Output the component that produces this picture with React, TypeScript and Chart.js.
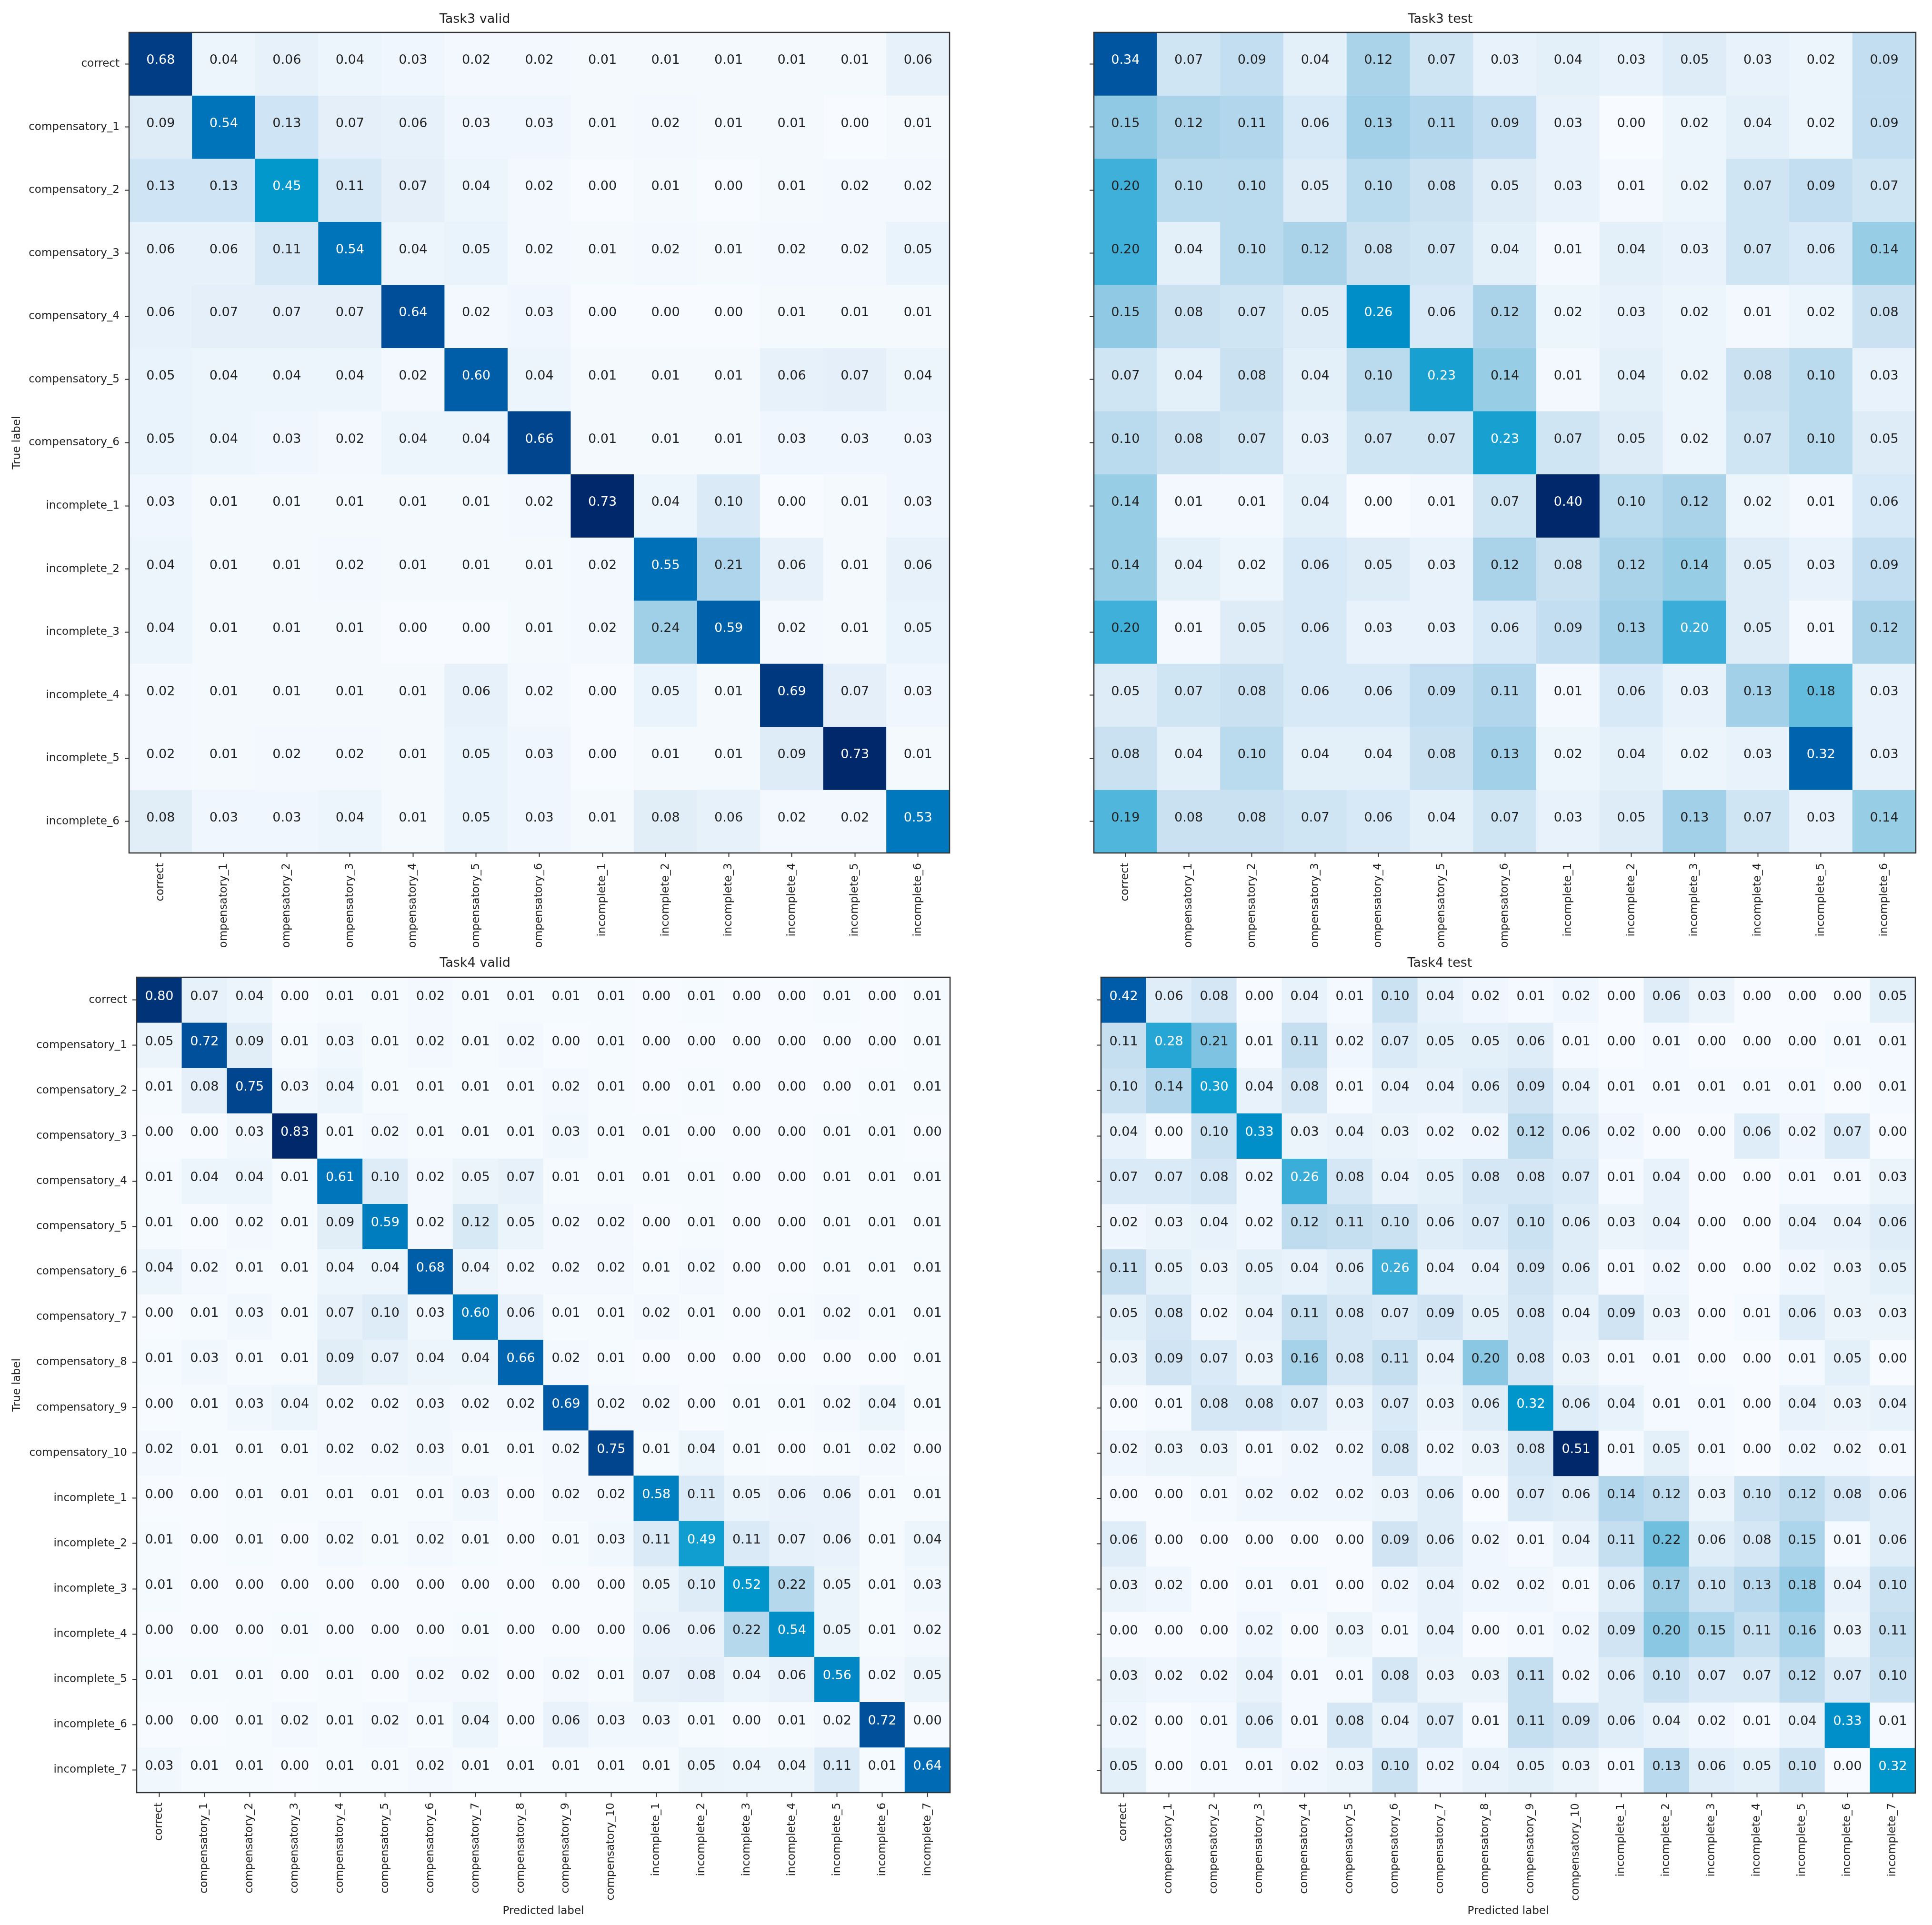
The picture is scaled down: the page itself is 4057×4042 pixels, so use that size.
import React, { useEffect, useRef } from 'react';
import { Chart, registerables } from 'chart.js';

Chart.register(...registerables);

const FONT = '"DejaVu Sans", "Liberation Sans", sans-serif';
Chart.defaults.font.family = FONT;

// ---------------- DATA ----------------
const task3Labels = [
  'correct', 'compensatory_1', 'compensatory_2', 'compensatory_3', 'compensatory_4',
  'compensatory_5', 'compensatory_6', 'incomplete_1', 'incomplete_2', 'incomplete_3',
  'incomplete_4', 'incomplete_5', 'incomplete_6',
];

const task4Labels = [
  'correct', 'compensatory_1', 'compensatory_2', 'compensatory_3', 'compensatory_4',
  'compensatory_5', 'compensatory_6', 'compensatory_7', 'compensatory_8', 'compensatory_9',
  'compensatory_10', 'incomplete_1', 'incomplete_2', 'incomplete_3', 'incomplete_4',
  'incomplete_5', 'incomplete_6', 'incomplete_7',
];

const task3Valid: number[][] = [
  [0.68, 0.04, 0.06, 0.04, 0.03, 0.02, 0.02, 0.01, 0.01, 0.01, 0.01, 0.01, 0.06],
  [0.09, 0.54, 0.13, 0.07, 0.06, 0.03, 0.03, 0.01, 0.02, 0.01, 0.01, 0.00, 0.01],
  [0.13, 0.13, 0.45, 0.11, 0.07, 0.04, 0.02, 0.00, 0.01, 0.00, 0.01, 0.02, 0.02],
  [0.06, 0.06, 0.11, 0.54, 0.04, 0.05, 0.02, 0.01, 0.02, 0.01, 0.02, 0.02, 0.05],
  [0.06, 0.07, 0.07, 0.07, 0.64, 0.02, 0.03, 0.00, 0.00, 0.00, 0.01, 0.01, 0.01],
  [0.05, 0.04, 0.04, 0.04, 0.02, 0.60, 0.04, 0.01, 0.01, 0.01, 0.06, 0.07, 0.04],
  [0.05, 0.04, 0.03, 0.02, 0.04, 0.04, 0.66, 0.01, 0.01, 0.01, 0.03, 0.03, 0.03],
  [0.03, 0.01, 0.01, 0.01, 0.01, 0.01, 0.02, 0.73, 0.04, 0.10, 0.00, 0.01, 0.03],
  [0.04, 0.01, 0.01, 0.02, 0.01, 0.01, 0.01, 0.02, 0.55, 0.21, 0.06, 0.01, 0.06],
  [0.04, 0.01, 0.01, 0.01, 0.00, 0.00, 0.01, 0.02, 0.24, 0.59, 0.02, 0.01, 0.05],
  [0.02, 0.01, 0.01, 0.01, 0.01, 0.06, 0.02, 0.00, 0.05, 0.01, 0.69, 0.07, 0.03],
  [0.02, 0.01, 0.02, 0.02, 0.01, 0.05, 0.03, 0.00, 0.01, 0.01, 0.09, 0.73, 0.01],
  [0.08, 0.03, 0.03, 0.04, 0.01, 0.05, 0.03, 0.01, 0.08, 0.06, 0.02, 0.02, 0.53],
];

const task3Test: number[][] = [
  [0.34, 0.07, 0.09, 0.04, 0.12, 0.07, 0.03, 0.04, 0.03, 0.05, 0.03, 0.02, 0.09],
  [0.15, 0.12, 0.11, 0.06, 0.13, 0.11, 0.09, 0.03, 0.00, 0.02, 0.04, 0.02, 0.09],
  [0.20, 0.10, 0.10, 0.05, 0.10, 0.08, 0.05, 0.03, 0.01, 0.02, 0.07, 0.09, 0.07],
  [0.20, 0.04, 0.10, 0.12, 0.08, 0.07, 0.04, 0.01, 0.04, 0.03, 0.07, 0.06, 0.14],
  [0.15, 0.08, 0.07, 0.05, 0.26, 0.06, 0.12, 0.02, 0.03, 0.02, 0.01, 0.02, 0.08],
  [0.07, 0.04, 0.08, 0.04, 0.10, 0.23, 0.14, 0.01, 0.04, 0.02, 0.08, 0.10, 0.03],
  [0.10, 0.08, 0.07, 0.03, 0.07, 0.07, 0.23, 0.07, 0.05, 0.02, 0.07, 0.10, 0.05],
  [0.14, 0.01, 0.01, 0.04, 0.00, 0.01, 0.07, 0.40, 0.10, 0.12, 0.02, 0.01, 0.06],
  [0.14, 0.04, 0.02, 0.06, 0.05, 0.03, 0.12, 0.08, 0.12, 0.14, 0.05, 0.03, 0.09],
  [0.20, 0.01, 0.05, 0.06, 0.03, 0.03, 0.06, 0.09, 0.13, 0.204, 0.05, 0.01, 0.12],
  [0.05, 0.07, 0.08, 0.06, 0.06, 0.09, 0.11, 0.01, 0.06, 0.03, 0.13, 0.18, 0.03],
  [0.08, 0.04, 0.10, 0.04, 0.04, 0.08, 0.13, 0.02, 0.04, 0.02, 0.03, 0.32, 0.03],
  [0.19, 0.08, 0.08, 0.07, 0.06, 0.04, 0.07, 0.03, 0.05, 0.13, 0.07, 0.03, 0.14],
];

const task4Valid: number[][] = [
  [0.80, 0.07, 0.04, 0.00, 0.01, 0.01, 0.02, 0.01, 0.01, 0.01, 0.01, 0.00, 0.01, 0.00, 0.00, 0.01, 0.00, 0.01],
  [0.05, 0.72, 0.09, 0.01, 0.03, 0.01, 0.02, 0.01, 0.02, 0.00, 0.01, 0.00, 0.00, 0.00, 0.00, 0.00, 0.00, 0.01],
  [0.01, 0.08, 0.75, 0.03, 0.04, 0.01, 0.01, 0.01, 0.01, 0.02, 0.01, 0.00, 0.01, 0.00, 0.00, 0.00, 0.01, 0.01],
  [0.00, 0.00, 0.03, 0.83, 0.01, 0.02, 0.01, 0.01, 0.01, 0.03, 0.01, 0.01, 0.00, 0.00, 0.00, 0.01, 0.01, 0.00],
  [0.01, 0.04, 0.04, 0.01, 0.61, 0.10, 0.02, 0.05, 0.07, 0.01, 0.01, 0.01, 0.01, 0.00, 0.00, 0.01, 0.01, 0.01],
  [0.01, 0.00, 0.02, 0.01, 0.09, 0.59, 0.02, 0.12, 0.05, 0.02, 0.02, 0.00, 0.01, 0.00, 0.00, 0.01, 0.01, 0.01],
  [0.04, 0.02, 0.01, 0.01, 0.04, 0.04, 0.68, 0.04, 0.02, 0.02, 0.02, 0.01, 0.02, 0.00, 0.00, 0.01, 0.01, 0.01],
  [0.00, 0.01, 0.03, 0.01, 0.07, 0.10, 0.03, 0.60, 0.06, 0.01, 0.01, 0.02, 0.01, 0.00, 0.01, 0.02, 0.01, 0.01],
  [0.01, 0.03, 0.01, 0.01, 0.09, 0.07, 0.04, 0.04, 0.66, 0.02, 0.01, 0.00, 0.00, 0.00, 0.00, 0.00, 0.00, 0.01],
  [0.00, 0.01, 0.03, 0.04, 0.02, 0.02, 0.03, 0.02, 0.02, 0.69, 0.02, 0.02, 0.00, 0.01, 0.01, 0.02, 0.04, 0.01],
  [0.02, 0.01, 0.01, 0.01, 0.02, 0.02, 0.03, 0.01, 0.01, 0.02, 0.75, 0.01, 0.04, 0.01, 0.00, 0.01, 0.02, 0.00],
  [0.00, 0.00, 0.01, 0.01, 0.01, 0.01, 0.01, 0.03, 0.00, 0.02, 0.02, 0.58, 0.11, 0.05, 0.06, 0.06, 0.01, 0.01],
  [0.01, 0.00, 0.01, 0.00, 0.02, 0.01, 0.02, 0.01, 0.00, 0.01, 0.03, 0.11, 0.49, 0.11, 0.07, 0.06, 0.01, 0.04],
  [0.01, 0.00, 0.00, 0.00, 0.00, 0.00, 0.00, 0.00, 0.00, 0.00, 0.00, 0.05, 0.10, 0.52, 0.22, 0.05, 0.01, 0.03],
  [0.00, 0.00, 0.00, 0.01, 0.00, 0.00, 0.00, 0.01, 0.00, 0.00, 0.00, 0.06, 0.06, 0.22, 0.54, 0.05, 0.01, 0.02],
  [0.01, 0.01, 0.01, 0.00, 0.01, 0.00, 0.02, 0.02, 0.00, 0.02, 0.01, 0.07, 0.08, 0.04, 0.06, 0.56, 0.02, 0.05],
  [0.00, 0.00, 0.01, 0.02, 0.01, 0.02, 0.01, 0.04, 0.00, 0.06, 0.03, 0.03, 0.01, 0.00, 0.01, 0.02, 0.72, 0.00],
  [0.03, 0.01, 0.01, 0.00, 0.01, 0.01, 0.02, 0.01, 0.01, 0.01, 0.01, 0.01, 0.05, 0.04, 0.04, 0.11, 0.01, 0.64],
];

const task4Test: number[][] = [
  [0.42, 0.06, 0.08, 0.00, 0.04, 0.01, 0.10, 0.04, 0.02, 0.01, 0.02, 0.00, 0.06, 0.03, 0.00, 0.00, 0.00, 0.05],
  [0.11, 0.28, 0.21, 0.01, 0.11, 0.02, 0.07, 0.05, 0.05, 0.06, 0.01, 0.00, 0.01, 0.00, 0.00, 0.00, 0.01, 0.01],
  [0.10, 0.14, 0.30, 0.04, 0.08, 0.01, 0.04, 0.04, 0.06, 0.09, 0.04, 0.01, 0.01, 0.01, 0.01, 0.01, 0.00, 0.01],
  [0.04, 0.00, 0.10, 0.33, 0.03, 0.04, 0.03, 0.02, 0.02, 0.12, 0.06, 0.02, 0.00, 0.00, 0.06, 0.02, 0.07, 0.00],
  [0.07, 0.07, 0.08, 0.02, 0.26, 0.08, 0.04, 0.05, 0.08, 0.08, 0.07, 0.01, 0.04, 0.00, 0.00, 0.01, 0.01, 0.03],
  [0.02, 0.03, 0.04, 0.02, 0.12, 0.11, 0.10, 0.06, 0.07, 0.10, 0.06, 0.03, 0.04, 0.00, 0.00, 0.04, 0.04, 0.06],
  [0.11, 0.05, 0.03, 0.05, 0.04, 0.06, 0.26, 0.04, 0.04, 0.09, 0.06, 0.01, 0.02, 0.00, 0.00, 0.02, 0.03, 0.05],
  [0.05, 0.08, 0.02, 0.04, 0.11, 0.08, 0.07, 0.09, 0.05, 0.08, 0.04, 0.09, 0.03, 0.00, 0.01, 0.06, 0.03, 0.03],
  [0.03, 0.09, 0.07, 0.03, 0.16, 0.08, 0.11, 0.04, 0.20, 0.08, 0.03, 0.01, 0.01, 0.00, 0.00, 0.01, 0.05, 0.00],
  [0.00, 0.01, 0.08, 0.08, 0.07, 0.03, 0.07, 0.03, 0.06, 0.32, 0.06, 0.04, 0.01, 0.01, 0.00, 0.04, 0.03, 0.04],
  [0.02, 0.03, 0.03, 0.01, 0.02, 0.02, 0.08, 0.02, 0.03, 0.08, 0.51, 0.01, 0.05, 0.01, 0.00, 0.02, 0.02, 0.01],
  [0.00, 0.00, 0.01, 0.02, 0.02, 0.02, 0.03, 0.06, 0.00, 0.07, 0.06, 0.14, 0.12, 0.03, 0.10, 0.12, 0.08, 0.06],
  [0.06, 0.00, 0.00, 0.00, 0.00, 0.00, 0.09, 0.06, 0.02, 0.01, 0.04, 0.11, 0.22, 0.06, 0.08, 0.15, 0.01, 0.06],
  [0.03, 0.02, 0.00, 0.01, 0.01, 0.00, 0.02, 0.04, 0.02, 0.02, 0.01, 0.06, 0.17, 0.10, 0.13, 0.18, 0.04, 0.10],
  [0.00, 0.00, 0.00, 0.02, 0.00, 0.03, 0.01, 0.04, 0.00, 0.01, 0.02, 0.09, 0.20, 0.15, 0.11, 0.16, 0.03, 0.11],
  [0.03, 0.02, 0.02, 0.04, 0.01, 0.01, 0.08, 0.03, 0.03, 0.11, 0.02, 0.06, 0.10, 0.07, 0.07, 0.12, 0.07, 0.10],
  [0.02, 0.00, 0.01, 0.06, 0.01, 0.08, 0.04, 0.07, 0.01, 0.11, 0.09, 0.06, 0.04, 0.02, 0.01, 0.04, 0.33, 0.01],
  [0.05, 0.00, 0.01, 0.01, 0.02, 0.03, 0.10, 0.02, 0.04, 0.05, 0.03, 0.01, 0.13, 0.06, 0.05, 0.10, 0.00, 0.32],
];

// ---------------- STYLE ----------------
const BLUE_STOPS: [number, number[]][] = [
  [0.0, [247, 251, 255]],
  [0.1, [227, 239, 249]],
  [0.2, [202, 225, 242]],
  [0.3, [170, 211, 234]],
  [0.4, [134, 198, 226]],
  [0.5, [63, 176, 218]],
  [0.62, [0, 151, 204]],
  [0.74, [0, 116, 187]],
  [0.86, [0, 82, 159]],
  [1.0, [0, 40, 106]],
];

function blues(t: number): string {
  const v = Math.max(0, Math.min(1, t));
  for (let k = 1; k < BLUE_STOPS.length; k++) {
    const [t1, c1] = BLUE_STOPS[k];
    const [t0, c0] = BLUE_STOPS[k - 1];
    if (v <= t1) {
      const f = (v - t0) / (t1 - t0);
      const c = c0.map((a, i) => Math.round(a + (c1[i] - a) * f));
      return `rgb(${c[0]},${c[1]},${c[2]})`;
    }
  }
  const c = BLUE_STOPS[BLUE_STOPS.length - 1][1];
  return `rgb(${c[0]},${c[1]},${c[2]})`;
}

type Rect = { x: number; y: number; w: number; h: number };
type Area = { L: number; T: number; R: number; B: number };

interface PanelProps {
  title: string;
  labels: string[];
  matrix: number[][];
  clip: Rect;
  canvas: Rect;
  area: Area;
  titleCenter: number;
  xTitleCenter?: number;
}

const TEXT = '#222222';
const TICK_COLOR = '#333333';

function ConfusionPanel({ title, labels, matrix, clip, canvas, area, titleCenter, xTitleCenter }: PanelProps) {
  const ref = useRef<HTMLCanvasElement | null>(null);

  useEffect(() => {
    const el = ref.current;
    if (!el) return;
    const n = labels.length;
    const vmax = Math.max(...matrix.map((r) => Math.max(...r)));

    const titleSize = 27;
    const titleLH = titleSize * 1.2;
    const tPadTop = titleCenter - canvas.y - titleLH / 2;
    const tPadBottom = area.T - canvas.y - tPadTop - titleLH;
    const yAxisW = area.L - canvas.x;
    const xAxisH = canvas.y + canvas.h - area.B;
    const padRight = canvas.x + canvas.w - area.R;
    const axTitleSize = 23;
    const axLH = axTitleSize * 1.2;
    const xTitlePadBottom = xTitleCenter ? canvas.y + canvas.h - xTitleCenter - axLH / 2 : 0;

    const datasets = matrix.map((row, i) => ({
      label: labels[i],
      data: row.map(() => [i, i + 1]),
      backgroundColor: row.map((v) => blues(v / vmax)),
      borderWidth: 0,
      grouped: false,
      categoryPercentage: 1,
      barPercentage: 1,
    }));

    const cellText = {
      id: 'cellText',
      afterDatasetsDraw(chart: any) {
        const ctx = chart.ctx;
        ctx.save();
        ctx.font = `27px ${FONT}`;
        ctx.textAlign = 'center';
        ctx.textBaseline = 'alphabetic';
        matrix.forEach((row, i) => {
          const meta = chart.getDatasetMeta(i);
          row.forEach((v, j) => {
            const bar = meta.data[j];
            if (!bar) return;
            const p = bar.getProps(['x', 'y', 'base'], true);
            const cy = (p.y + p.base) / 2;
            ctx.fillStyle = v > vmax / 2 ? '#ffffff' : TEXT;
            ctx.fillText(v.toFixed(2), p.x, cy);
          });
        });
        const a = chart.chartArea;
        ctx.strokeStyle = TICK_COLOR;
        ctx.lineWidth = 2.5;
        ctx.strokeRect(a.left, a.top, a.right - a.left, a.bottom - a.top);
        ctx.restore();
      },
    };

    const chart = new Chart(el, {
      type: 'bar',
      data: { labels, datasets: datasets as any },
      plugins: [cellText],
      options: {
        animation: false,
        responsive: false,
        devicePixelRatio: 1,
        events: [],
        layout: { padding: { left: 0, top: 0, right: padRight, bottom: 0 } },
        plugins: {
          legend: { display: false },
          tooltip: { enabled: false },
          title: {
            display: true,
            text: title,
            color: TEXT,
            font: { family: FONT, size: titleSize, weight: 'normal' },
            padding: { top: tPadTop, bottom: tPadBottom },
          },
        },
        scales: {
          x: {
            type: 'category',
            offset: true,
            grid: {
              display: true,
              drawOnChartArea: false,
              drawTicks: true,
              tickLength: 9,
              tickWidth: 2,
              tickColor: TICK_COLOR,
              offset: false,
            },
            border: { display: false },
            ticks: {
              autoSkip: false,
              minRotation: 90,
              maxRotation: 90,
              padding: 12,
              color: TEXT,
              font: { family: FONT, size: 23 },
            },
            title: {
              display: !!xTitleCenter,
              text: 'Predicted label',
              color: TEXT,
              font: { family: FONT, size: axTitleSize },
              padding: { top: 0, bottom: xTitlePadBottom },
            },
            afterFit: (s: any) => {
              s.height = xAxisH;
            },
          },
          y: {
            type: 'linear',
            min: 0,
            max: n,
            reverse: true,
            afterBuildTicks: (s: any) => {
              s.ticks = labels.map((_, i) => ({ value: i + 0.5 }));
            },
            grid: {
              display: true,
              drawOnChartArea: false,
              drawTicks: true,
              tickLength: 9,
              tickWidth: 2,
              tickColor: TICK_COLOR,
            },
            border: { display: false },
            ticks: {
              autoSkip: false,
              padding: 11,
              color: TEXT,
              font: { family: FONT, size: 23 },
              callback: (_v: any, idx: number) => labels[idx] ?? '',
            },
            title: {
              display: true,
              text: 'True label',
              color: TEXT,
              font: { family: FONT, size: axTitleSize },
              padding: { top: 22, bottom: 0 },
            },
            afterFit: (s: any) => {
              s.width = yAxisW;
            },
          },
        },
      } as any,
    });

    return () => chart.destroy();
  }, []);

  return (
    <div
      style={{
        position: 'absolute',
        left: clip.x,
        top: clip.y,
        width: clip.w,
        height: clip.h,
        overflow: 'hidden',
        background: '#ffffff',
      }}
    >
      <canvas
        ref={ref}
        width={canvas.w}
        height={canvas.h}
        style={{
          position: 'absolute',
          left: canvas.x - clip.x,
          top: canvas.y - clip.y,
          width: canvas.w,
          height: canvas.h,
        }}
      />
    </div>
  );
}

export default function App() {
  return (
    <div
      style={{
        position: 'absolute',
        left: 0,
        top: 0,
        width: 4057,
        height: 4042,
        background: '#ffffff',
        overflow: 'hidden',
      }}
    >
      <ConfusionPanel
        title="Task3 valid"
        labels={task3Labels}
        matrix={task3Valid}
        clip={{ x: 0, y: 0, w: 2286, h: 1990 }}
        canvas={{ x: 0, y: 0, w: 2286, h: 2400 }}
        area={{ L: 271, T: 68, R: 1994, B: 1791 }}
        titleCenter={41}
      />
      <ConfusionPanel
        title="Task3 test"
        labels={task3Labels}
        matrix={task3Test}
        clip={{ x: 2286, y: 0, w: 1771, h: 1990 }}
        canvas={{ x: 2026, y: 0, w: 2031, h: 2400 }}
        area={{ L: 2297, T: 68, R: 4023, B: 1791 }}
        titleCenter={41}
      />
      <ConfusionPanel
        title="Task4 valid"
        labels={task4Labels}
        matrix={task4Valid}
        clip={{ x: 0, y: 1992, w: 2300, h: 2028 }}
        canvas={{ x: 0, y: 1992, w: 2300, h: 2100 }}
        area={{ L: 287, T: 2052, R: 1995, B: 3764 }}
        titleCenter={2023}
        xTitleCenter={4013}
      />
      <ConfusionPanel
        title="Task4 test"
        labels={task4Labels}
        matrix={task4Test}
        clip={{ x: 2300, y: 1992, w: 1757, h: 2028 }}
        canvas={{ x: 2025, y: 1992, w: 2032, h: 2100 }}
        area={{ L: 2312, T: 2052, R: 4022, B: 3765 }}
        titleCenter={2023}
        xTitleCenter={4013}
      />
    </div>
  );
}
